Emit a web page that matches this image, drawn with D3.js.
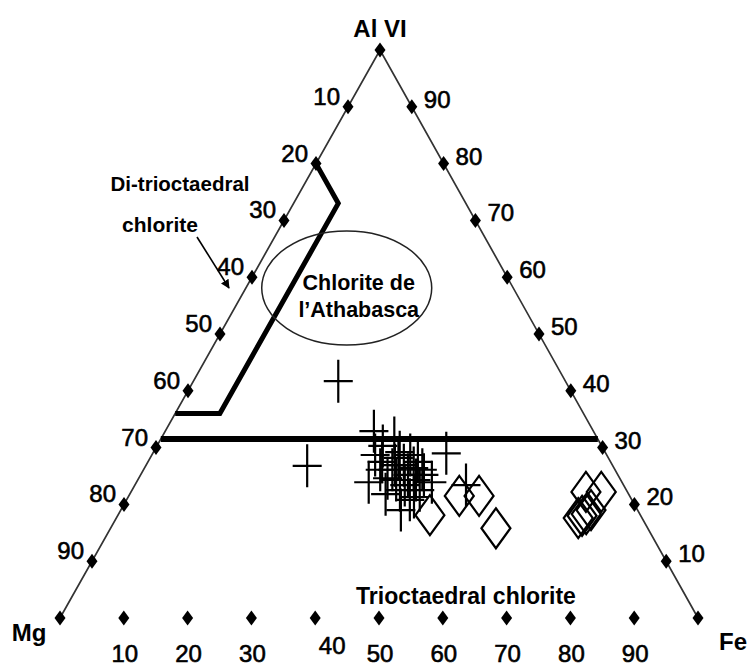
<!DOCTYPE html>
<html>
<head>
<meta charset="utf-8">
<script src="https://cdn.jsdelivr.net/npm/d3@7/dist/d3.min.js"></script>
<style>
  html, body { margin: 0; padding: 0; background: #fff; }
  svg { display: block; }
  text { font-family: "Liberation Sans", Arial, sans-serif; fill: #000; }
  text.num { stroke: #000; stroke-width: 0.6px; }
</style>
</head>
<body>
<script>
// Corner components of the ternary plot
const cornerNames = ["Al VI", "Mg", "Fe"];

// Graduation values along each side (percent)
const gradValues = [10, 20, 30, 40, 50, 60, 70, 80, 90];
const leftTickLabels = ["10", "20", "30", "40", "50", "60", "70", "80", "90"];
const rightTickLabels = ["90", "80", "70", "60", "50", "40", "30", "20", "10"];
const bottomTickLabels = ["10", "20", "30", "40", "50", "60", "70", "80", "90"];

// Analyses plotted as crosses: Al VI and Fe shares (percent)
const crossAl = [41.7, 26.8, 32.9, 30.3, 31.7, 29.0, 23.9, 27.5, 21.8, 19.0, 23.9, 23.4, 26.1, 28.2,
                 26.9, 25.2, 26.4, 23.4, 24.3, 22.5, 24.3, 28.7, 22.5, 21.3, 25.2, 24.6, 26.1,
                 29.2, 27.5, 26.1, 20.8, 26.9, 28.7];
const crossFe = [22.7, 25.3, 32.7, 35.4, 36.5, 46.0, 36.4, 36.7, 40.1, 43.9, 46.3, 51.9, 39.0, 38.9,
                 40.4, 41.9, 42.2, 42.3, 43.6, 45.1, 40.5, 40.5, 42.0, 44.8, 44.4, 39.0, 37.1,
                 38.6, 42.3, 43.7, 44.4, 39.0, 35.0];

// Analyses plotted as open diamonds
const diamondAl = [18.1, 21.5, 21.5, 15.8, 22.2, 22.2, 17.6, 18.0, 18.3, 19.0];
const diamondFe = [48.9, 51.8, 54.9, 60.4, 71.3, 73.7, 72.4, 72.8, 73.3, 73.7];

// Upper limit of trioctahedral chlorite (Al VI percent)
const trioctaLimitAl = 31.5;

// Di-trioctahedral chlorite field outline
const diTriAl = [80, 73, 36, 36];
const diTriFe = [0, 7, 7, 0];

// Athabasca chlorite field (centre, in Al VI / Fe percent)
const athabascaAl = 58.1;
const athabascaFe = 15.8;

const W = 750, H = 666;
const svg = d3.select("body").append("svg").attr("width", W).attr("height", H);

// Ternary projection: Al VI drives height, Fe runs along the base
const apex = { x: 380, y: 50 }, mgPt = { x: 60, y: 618 }, fePt = { x: 698, y: 618 };
const yScale = d3.scaleLinear().domain([0, 100]).range([mgPt.y, apex.y]);
const feScale = d3.scaleLinear().domain([0, 100]).range([mgPt.x, fePt.x]);
const alShift = d3.scaleLinear().domain([0, 100]).range([0, apex.x - mgPt.x]);
const proj = (al, fe) => [feScale(fe) + alShift(al), yScale(al)];

const g = svg.append("g");

// Triangle sides (no base line)
g.append("path")
  .attr("d", d3.line()([[mgPt.x, mgPt.y], [apex.x, apex.y], [fePt.x, fePt.y]]))
  .attr("fill", "none").attr("stroke", "#333").attr("stroke-width", 1.7);

// Small filled diamond used for graduations
const tickDiamond = (cx, cy) => `M${cx},${cy - 7.5}L${cx + 5.5},${cy}L${cx},${cy + 7.5}L${cx - 5.5},${cy}Z`;

const cornerPts = [proj(100, 0), proj(0, 0), proj(0, 100)];
g.selectAll("path.corner").data(cornerPts).enter().append("path")
  .attr("class", "corner")
  .attr("d", d => tickDiamond(d[0], d[1])).attr("fill", "#000");

// Left side graduations (Mg side), counted from the apex
const leftPts = gradValues.map(v => proj(100 - v, 0));
g.selectAll("path.lt").data(leftPts).enter().append("path").attr("class", "lt")
  .attr("d", d => tickDiamond(d[0], d[1])).attr("fill", "#000");
g.selectAll("text.lt").data(leftPts).enter().append("text").attr("class", "lt num")
  .attr("x", d => d[0] - 8).attr("y", d => d[1] - 2)
  .attr("text-anchor", "end").style("font-size", "24px")
  .text((d, i) => leftTickLabels[i]);

// Right side graduations (Fe side)
const rightPts = gradValues.map(v => proj(100 - v, v));
g.selectAll("path.rt").data(rightPts).enter().append("path").attr("class", "rt")
  .attr("d", d => tickDiamond(d[0], d[1])).attr("fill", "#000");
g.selectAll("text.rt").data(rightPts).enter().append("text").attr("class", "rt num")
  .attr("x", d => d[0] + 12).attr("y", d => d[1] + 1)
  .attr("text-anchor", "start").style("font-size", "24px")
  .text((d, i) => rightTickLabels[i]);

// Base graduations
const bottomPts = gradValues.map(v => proj(0, v));
g.selectAll("path.bt").data(bottomPts).enter().append("path").attr("class", "bt")
  .attr("d", d => tickDiamond(d[0], d[1])).attr("fill", "#000");
g.selectAll("text.bt").data(bottomPts).enter().append("text").attr("class", "bt num")
  // the "40" label sits a little higher and to the right
  .attr("x", (d, i) => d[0] + (bottomTickLabels[i] === "40" ? 17 : 1))
  .attr("y", (d, i) => d[1] + (bottomTickLabels[i] === "40" ? 36 : 44))
  .attr("text-anchor", "middle").style("font-size", "24px")
  .text((d, i) => bottomTickLabels[i]);

// Corner names
g.append("text").attr("x", apex.x).attr("y", 37).attr("text-anchor", "middle")
  .style("font-size", "24px").style("font-weight", "bold").text(cornerNames[0]);
g.append("text").attr("x", 29).attr("y", 641).attr("text-anchor", "middle")
  .style("font-size", "24px").style("font-weight", "bold").text(cornerNames[1]);
g.append("text").attr("x", 733).attr("y", 650).attr("text-anchor", "middle")
  .style("font-size", "24px").style("font-weight", "bold").text(cornerNames[2]);

// Trioctahedral upper limit across the triangle
g.append("path")
  .attr("d", d3.line()([proj(trioctaLimitAl, 0), proj(trioctaLimitAl, 100 - trioctaLimitAl)]))
  .attr("stroke", "#000").attr("stroke-width", 6).attr("fill", "none");

// Di-trioctahedral field outline
g.append("path")
  .attr("d", d3.line()(diTriAl.map((a, i) => proj(a, diTriFe[i]))))
  .attr("stroke", "#000").attr("stroke-width", 5).attr("fill", "none")
  .attr("stroke-linejoin", "miter");

// Athabasca chlorite field
const ath = proj(athabascaAl, athabascaFe);
g.append("ellipse").attr("cx", ath[0]).attr("cy", ath[1]).attr("rx", 85).attr("ry", 57)
  .attr("fill", "none").attr("stroke", "#222").attr("stroke-width", 1.5);
g.append("text").attr("x", ath[0] + 12).attr("y", ath[1] + 2).attr("text-anchor", "middle")
  .style("font-size", "21.5px").style("font-weight", "bold").text("Chlorite de");
g.append("text").attr("x", ath[0] + 12).attr("y", ath[1] + 29).attr("text-anchor", "middle")
  .style("font-size", "21.5px").style("font-weight", "bold").text("l\u2019Athabasca");

// Field names
g.append("text").attr("x", 180).attr("y", 191).attr("text-anchor", "middle")
  .style("font-size", "20.5px").style("font-weight", "bold").text("Di-trioctaedral");
g.append("text").attr("x", 160).attr("y", 232).attr("text-anchor", "middle")
  .style("font-size", "21px").style("font-weight", "bold").text("chlorite");
g.append("text").attr("x", 466).attr("y", 604).attr("text-anchor", "middle")
  .style("font-size", "23px").style("font-weight", "bold").text("Trioctaedral chlorite");

// Arrow pointing into the di-trioctahedral field
const defs = svg.append("defs");
defs.append("marker").attr("id", "arrowhead").attr("viewBox", "0 0 10 10")
  .attr("refX", 9).attr("refY", 5).attr("markerWidth", 9).attr("markerHeight", 9)
  .attr("orient", "auto").attr("markerUnits", "userSpaceOnUse")
  .append("path").attr("d", "M0,0L10,5L0,10Z").attr("fill", "#000");
g.append("line").attr("x1", 197).attr("y1", 237).attr("x2", 229).attr("y2", 288)
  .attr("stroke", "#000").attr("stroke-width", 1.6).attr("marker-end", "url(#arrowhead)");

// Crosses
const crossPath = (cx, cy) => `M${cx - 14.5},${cy}H${cx + 14.5}M${cx},${cy - 21.5}V${cy + 21.5}`;
g.selectAll("path.cross").data(crossAl.map((a, i) => proj(a, crossFe[i]))).enter()
  .append("path").attr("class", "cross")
  .attr("d", d => crossPath(d[0], d[1]))
  .attr("stroke", "#000").attr("stroke-width", 2.2).attr("fill", "none");

// Open diamonds
const openDiamond = (cx, cy) => `M${cx},${cy - 20}L${cx + 14.5},${cy}L${cx},${cy + 20}L${cx - 14.5},${cy}Z`;
g.selectAll("path.dia").data(diamondAl.map((a, i) => proj(a, diamondFe[i]))).enter()
  .append("path").attr("class", "dia")
  .attr("d", d => openDiamond(d[0], d[1]))
  .attr("stroke", "#000").attr("stroke-width", 2.2).attr("fill", "none");
</script>
</body>
</html>
